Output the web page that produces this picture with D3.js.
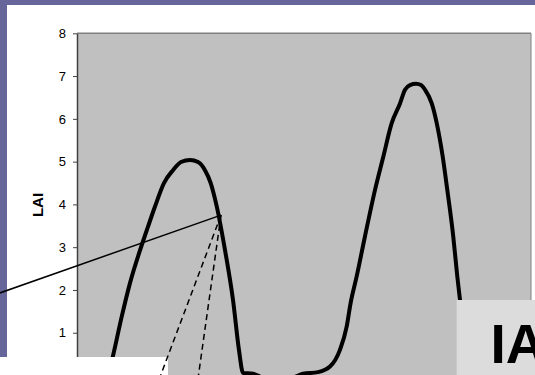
<!DOCTYPE html>
<html>
<head>
<meta charset="utf-8">
<script src="https://cdn.jsdelivr.net/npm/d3@7"></script>
<style>
  html, body { margin: 0; padding: 0; background: #fff; }
  svg { display: block; font-family: Arial, "Liberation Sans", sans-serif; }
</style>
</head>
<body>
<div id="vizcontainer"></div>
<script>
// LAI over the season (day of year, LAI)
const days = [25, 28.7, 35.9, 42.6, 50.7, 57.1, 62.7, 69.9, 77.2, 83.6, 90.9, 97.3, 102.9, 107.5,
  112.3, 119, 125.4, 130.2, 133.5, 141.5, 151.2, 171.3, 181.7, 193.8, 203.4, 211.4, 216.8, 220,
  224.8, 231.5, 239.6, 246.3, 253, 259.7, 263.7, 267.7, 272.6, 276.6, 279.8, 285.2, 289.2, 294,
  297.7, 302.5, 305.8, 307.9, 311.1, 313.6];
const lai = [0, 0.43, 1.37, 2.16, 2.93, 3.48, 3.95, 4.5, 4.8, 4.99, 5.04, 4.99, 4.8, 4.5,
  3.96, 2.93, 1.77, 0.6, 0.06, 0.04, -0.06, -0.06, 0.04, 0.08, 0.21, 0.6, 1.14, 1.7,
  2.31, 3.25, 4.34, 5.12, 5.9, 6.36, 6.68, 6.79, 6.82, 6.79, 6.68, 6.36, 5.9, 5.12,
  4.34, 3.25, 2.3, 1.77, 0.83, 0.04];
const yTicks = [1, 2, 3, 4, 5, 6, 7, 8];

// annotation pointer: solid line ends on the curve, dashed lines fan down from there
const pointerFrom = { day: -62, lai: 1.93 };
const pointerTo = { day: 115.8, lai: 3.75 };
const dashEnds = [{ day: 62, lai: -0.4 }, { day: 95.7, lai: -0.4 }];

const
  width = 535,
  height = 375,
  plotLeft = 77,
  plotRight = 531,
  plotTop = 33.3,
  plotBottom = 375.5;

const svg = d3.select('#vizcontainer')
  .append('svg')
  .attr('width', width)
  .attr('height', height);

const x = d3.scaleLinear()
  .domain([0, 365])
  .range([plotLeft, plotRight]);

const y = d3.scaleLinear()
  .domain([0, 8])
  .range([plotBottom, plotTop]);

// slide frame
svg.append('rect').attr('width', width).attr('height', height).attr('fill', '#fff');
svg.append('rect').attr('x', 0).attr('y', 0).attr('width', width).attr('height', 5).attr('fill', '#66669a');
svg.append('rect').attr('x', 0).attr('y', 0).attr('width', 7).attr('height', 357).attr('fill', '#66669a');

// plot area
svg.append('rect')
  .attr('x', plotLeft)
  .attr('y', plotTop)
  .attr('width', plotRight - plotLeft)
  .attr('height', height - plotTop + 10)
  .attr('fill', '#c0c0c0');
svg.append('line')
  .attr('x1', plotLeft).attr('x2', plotRight)
  .attr('y1', plotTop).attr('y2', plotTop)
  .attr('stroke', '#808080').attr('stroke-width', 1.5);
svg.append('line')
  .attr('x1', plotRight).attr('x2', plotRight)
  .attr('y1', plotTop).attr('y2', height + 5)
  .attr('stroke', '#808080').attr('stroke-width', 1);

// y axis
const yAxis = svg.append('g')
  .attr('transform', `translate(${plotLeft},0)`)
  .call(d3.axisLeft(y).tickValues(yTicks).tickSize(4).tickSizeOuter(0).tickPadding(7));
yAxis.attr('font-size', 13).attr('font-family', 'Arial, "Liberation Sans", sans-serif');
yAxis.select('.domain').attr('stroke', '#404040').attr('stroke-width', 1.5);
yAxis.selectAll('.tick line').attr('stroke', '#404040');
yAxis.selectAll('.tick text')
  .attr('fill', '#000')
  .style('font-size', '13px');

svg.append('text')
  .attr('transform', `translate(${42.5},${205}) rotate(-90)`)
  .attr('text-anchor', 'middle')
  .style('font-size', '15px')
  .style('font-weight', 'bold')
  .text('LAI');

// LAI curve
const line = d3.line()
  .x((d, i) => x(days[i]))
  .y(d => y(d))
  .curve(d3.curveMonotoneX);

svg.append('path')
  .datum(lai)
  .attr('fill', 'none')
  .attr('stroke', '#000')
  .attr('stroke-width', 4)
  .attr('stroke-linejoin', 'round')
  .attr('d', line);

// white text box at the bottom left
svg.append('rect')
  .attr('x', 0).attr('y', 357)
  .attr('width', 168).attr('height', 20)
  .attr('fill', '#fff');

// pointer lines
svg.append('line')
  .attr('x1', x(pointerFrom.day)).attr('y1', y(pointerFrom.lai))
  .attr('x2', x(pointerTo.day)).attr('y2', y(pointerTo.lai))
  .attr('stroke', '#000').attr('stroke-width', 1.5);

svg.append('g')
  .selectAll('line')
  .data(dashEnds)
  .join('line')
  .attr('x1', x(pointerTo.day)).attr('y1', y(pointerTo.lai))
  .attr('x2', d => x(d.day)).attr('y2', d => y(d.lai))
  .attr('stroke', '#000')
  .attr('stroke-width', 1.5)
  .attr('stroke-dasharray', '6,4');

// "IA" box, cut off by the right edge as in the slide
svg.append('rect')
  .attr('x', 456.7).attr('y', 300)
  .attr('width', 90).attr('height', 80)
  .attr('fill', '#dcdcdc');
svg.append('text')
  .attr('x', 490.5)
  .attr('y', 362.7)
  .style('font-size', '55px')
  .style('font-weight', 'bold')
  .text('IA');
</script>
</body>
</html>
